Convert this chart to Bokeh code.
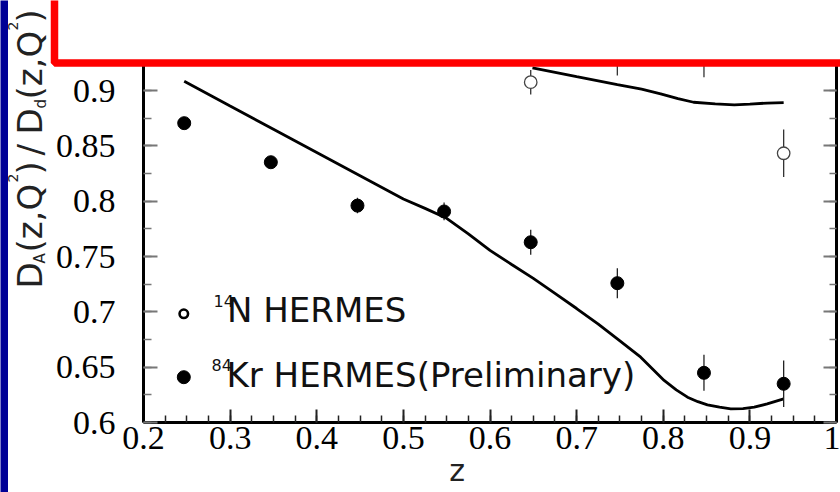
from math import pi
import numpy as np
from bokeh.plotting import figure
from bokeh.models import Range1d, LinearAxis, FixedTicker, BoxAnnotation, Label
from bokeh.embed import file_html
from bokeh.resources import INLINE

# ---------------- data ----------------
kr_z = [0.247, 0.347, 0.447, 0.547, 0.647, 0.747, 0.847, 0.939]
kr_ratio = [0.8705, 0.8352, 0.796, 0.7907, 0.7629, 0.7259, 0.6449, 0.635]
kr_err = [0.004, 0.004, 0.007, 0.008, 0.0113, 0.0136, 0.0163, 0.021]

n_z = [0.647, 0.747, 0.847, 0.939]
n_ratio = [0.9075, 0.935, 0.936, 0.8433]
n_err = [0.011, 0.0215, 0.024, 0.0215]

kr_curve_z = [0.247, 0.3, 0.35, 0.4, 0.45, 0.5, 0.525, 0.55, 0.575, 0.6, 0.625,
              0.65, 0.675, 0.7, 0.725, 0.747, 0.774, 0.801, 0.815, 0.828, 0.84,
              0.851, 0.865, 0.878, 0.892, 0.905, 0.92, 0.939]
kr_curve = [0.9084, 0.886, 0.865, 0.844, 0.823, 0.802, 0.7935, 0.7845, 0.7705,
            0.7555, 0.7428, 0.7302, 0.7166, 0.703, 0.6888, 0.6756, 0.659, 0.638,
            0.6295, 0.6229, 0.6188, 0.616, 0.6138, 0.6124, 0.6126, 0.6138,
            0.6168, 0.6214]

n_curve_z = [0.649, 0.7, 0.747, 0.775, 0.797, 0.817, 0.835, 0.86, 0.882, 0.9,
             0.92, 0.939]
n_curve = [0.9205, 0.9126, 0.9054, 0.9012, 0.897, 0.8926, 0.8894, 0.8879, 0.887,
           0.8877, 0.8887, 0.8891]

x_ticks = [0.2, 0.3, 0.4, 0.5, 0.6, 0.7, 0.8, 0.9, 1.0]
x_tick_labels = ["0.2", "0.3", "0.4", "0.5", "0.6", "0.7", "0.8", "0.9", "1"]
y_ticks = [0.6, 0.65, 0.7, 0.75, 0.8, 0.85, 0.9]
y_tick_labels = ["0.6", "0.65", "0.7", "0.75", "0.8", "0.85", "0.9"]

legend_texts = [("14", "N HERMES"), ("84", "Kr HERMES(Preliminary)")]

# ---------------- layout (page pixels) ----------------
W, H = 840, 492
FL, FR, FT, FB = 143, 836, 63, 422          # plot box inside the slide
X0, X1, Y0 = 0.2, 1.0, 0.6
Y_PER_PX = 0.05 / 55.33
Y1 = Y0 + (FB - FT) * Y_PER_PX
BASE_K = 0.4   # label anchor correction (fraction of font size)


def dx(px):
    return X0 + (px - FL) * (X1 - X0) / (FR - FL)


def dy(py):
    return Y0 + (FB - py) * Y_PER_PX


x_minor = [round(v, 4) for v in np.arange(0.2, 1.0001, 0.025)]
y_minor = [round(v, 4) for v in np.arange(0.6, 0.93, 0.025)]

# the frame covers the whole canvas; axes are pinned at the plot-box edges
p = figure(width=W, height=H,
           x_range=Range1d(dx(0), dx(W)), y_range=Range1d(dy(H), dy(0)),
           output_backend="svg", toolbar_location=None,
           min_border_left=0, min_border_right=0,
           min_border_top=0, min_border_bottom=0)
p.outline_line_color = None
p.grid.visible = False
p.background_fill_color = "white"
p.border_fill_color = "white"

xa = p.xaxis[0]
xa.fixed_location = Y0
xa.bounds = (X0, X1)
xa.ticker = FixedTicker(ticks=x_ticks, minor_ticks=x_minor)
xa.major_label_overrides = dict(zip(x_ticks, x_tick_labels))
xa.axis_line_width = 3
xa.axis_line_color = "black"
xa.major_tick_line_width = 2
xa.major_tick_line_color = "#222"
xa.major_tick_in = 13
xa.major_tick_out = 0
xa.minor_tick_in = 7
xa.minor_tick_out = 0
xa.minor_tick_line_width = 1.5
xa.minor_tick_line_color = "#222"
xa.major_label_text_font = "Liberation Serif"
xa.major_label_text_font_size = "34px"
xa.major_label_text_color = "black"
xa.major_label_standoff = 4

ya = p.yaxis[0]
ya.fixed_location = X0
ya.bounds = (Y0, Y1)
ya.ticker = FixedTicker(ticks=y_ticks, minor_ticks=y_minor)
ya.major_label_overrides = dict(zip(y_ticks, y_tick_labels))
ya.axis_line_width = 3
ya.axis_line_color = "black"
ya.major_tick_line_width = 2
ya.major_tick_line_color = "#777"
ya.major_tick_in = 14
ya.major_tick_out = 0
ya.minor_tick_in = 8
ya.minor_tick_out = 0
ya.minor_tick_line_width = 1.5
ya.minor_tick_line_color = "#777"
ya.major_label_text_font = "Liberation Serif"
ya.major_label_text_font_size = "34px"
ya.major_label_text_color = "black"
ya.major_label_standoff = 28

ra = LinearAxis(fixed_location=X1, bounds=(Y0, Y1),
                ticker=FixedTicker(ticks=y_ticks, minor_ticks=y_minor),
                major_label_overrides={t: "" for t in y_ticks},
                major_label_standoff=0,
                axis_line_width=3, axis_line_color="black",
                major_tick_in=13, major_tick_out=0, major_tick_line_width=2,
                major_tick_line_color="#777",
                minor_tick_in=7, minor_tick_out=0, minor_tick_line_width=1.5,
                minor_tick_line_color="#777")
p.add_layout(ra, "right")

# curves
p.line(kr_curve_z, kr_curve, line_width=2.8, line_color="black")
p.line(n_curve_z, n_curve, line_width=2.8, line_color="black")

# error bars
p.segment(x0=kr_z, y0=[v - e for v, e in zip(kr_ratio, kr_err)],
          x1=kr_z, y1=[v + e for v, e in zip(kr_ratio, kr_err)],
          line_color="#222", line_width=1.3)
p.segment(x0=n_z, y0=[v - e for v, e in zip(n_ratio, n_err)],
          x1=n_z, y1=[v + e for v, e in zip(n_ratio, n_err)],
          line_color="#333", line_width=1.3)

# points
p.scatter(n_z, n_ratio, marker="circle", size=12.5, fill_color="white",
          line_color="#444", line_width=1.3)
p.scatter(kr_z, kr_ratio, marker="circle", size=13, fill_color="black",
          line_color="black")

# legend (drawn by hand)
p.scatter([dx(183.3)], [dy(313.3)], marker="circle", size=8.5,
          fill_color="white", line_color="black", line_width=2.6)
p.scatter([dx(183.3)], [dy(376.7)], marker="circle", size=13,
          fill_color="black", line_color="black")

SANS = "DejaVu Sans"


def add_text(txt, px, py, fs, color="#111", angle=0.0, align="left"):
    # px, py: wanted baseline position (page pixels)
    if angle == 0.0:
        ax, ay = px, py - BASE_K * fs
    else:
        ax, ay = px - BASE_K * fs, py
    p.add_layout(Label(x=dx(ax), y=dy(ay), text=txt, angle=angle,
                       text_font=SANS, text_font_size=f"{fs}px",
                       text_color=color, text_align=align,
                       text_baseline="alphabetic"))


leg_pos = [((213, 307), (226.5, 323)), ((211, 371), (226, 388))]
for (sup, main), ((sx, sy), (mx, my)) in zip(legend_texts, leg_pos):
    add_text(sup, sx, sy, 16)
    add_text(main, mx, my, 34)

# x axis label
add_text("z", 456.5, 482, 30, color="#222", align="center")

# y axis label, in pieces (sub/superscripts)
ylabel_parts = [("D", 34, 43.5, 288), ("A", 15, 45, 263), ("(z,Q", 34, 43.5, 252),
                ("2", 14, 18.5, 182), (")", 34, 43.5, 174), ("/", 34, 43.5, 155),
                ("D", 34, 43.5, 134), ("d", 15, 46, 108), ("(z,Q", 34, 43.5, 99),
                ("2", 14, 18.5, 30), (")", 34, 43.5, 22)]
for txt, fs, bx, by in ylabel_parts:
    add_text(txt, bx, by, fs, color="#222", angle=pi / 2)

# slide decorations: red framed white box (covers the top of the plot) and blue strip
p.add_layout(BoxAnnotation(left=dx(54), right=dx(900), bottom=dy(62.5), top=dy(-60),
                           fill_color="white", fill_alpha=1.0,
                           line_color="#ff0000", line_width=7.5, line_alpha=1.0,
                           level="overlay"))
p.add_layout(BoxAnnotation(left=dx(-30), right=dx(7.5), bottom=dy(600), top=dy(-60),
                           fill_color="#000096", fill_alpha=1.0, line_alpha=0.0,
                           level="overlay"))

open("out.html", "w").write(file_html(p, INLINE))
